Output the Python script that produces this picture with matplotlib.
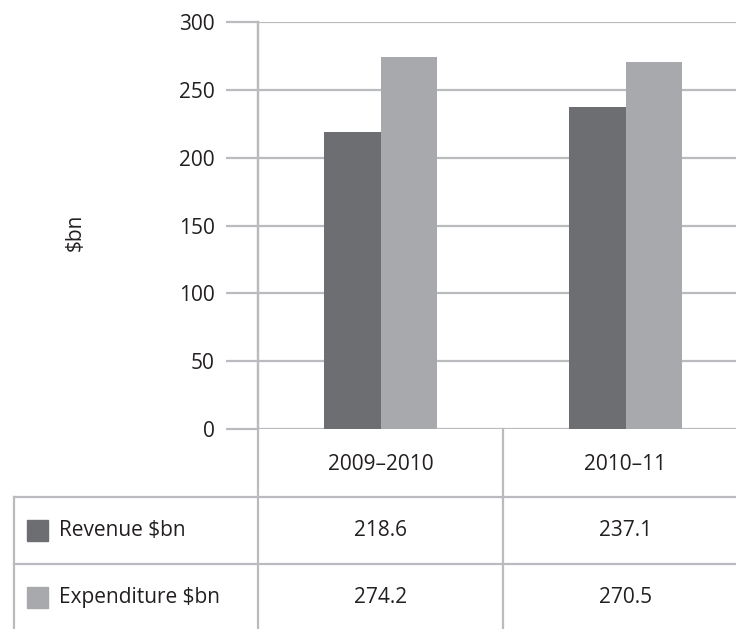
import matplotlib
matplotlib.use("Agg")
import matplotlib.pyplot as plt
from matplotlib.lines import Line2D
from matplotlib import transforms

categories = ["2009\u20132010", "2010\u201311"]
series_names = ["Revenue $bn", "Expenditure $bn"]
revenue = [218.6, 237.1]
expenditure = [274.2, 270.5]
yticks = [0, 50, 100, 150, 200, 250, 300]

colors = ["#6d6e71", "#a7a9ac"]
grid_c = "#b9bbbe"
txt_c = "#231f20"
fs = 15

plt.rcParams["font.family"] = ["Open Sans", "DejaVu Sans"]

W, H = 736, 629
fig = plt.figure(figsize=(W / 100, H / 100), dpi=100)

def fx(px):
    return px / W

def fy(py):
    return 1 - py / H

ax_left, ax_right, ax_top, ax_bot = 258, 748, 22, 429
ax = fig.add_axes([fx(ax_left), fy(ax_bot), fx(ax_right - ax_left), fy(ax_top) - fy(ax_bot)])

x = list(range(len(categories)))
bw = 0.23
ax.bar([i - bw / 2 for i in x], revenue, width=bw, color=colors[0], zorder=3)
ax.bar([i + bw / 2 for i in x], expenditure, width=bw, color=colors[1], zorder=3)

ax.set_xlim(-0.5, len(categories) - 0.5)
ax.set_ylim(0, 300)
ax.set_yticks(yticks)
ax.set_yticklabels([str(v) for v in yticks], fontsize=fs, color=txt_c)
ax.set_xticks([])
ax.yaxis.grid(True, color=grid_c, linewidth=1.6, zorder=0)
for s in ["top", "right", "bottom"]:
    ax.spines[s].set_visible(False)
ax.spines["left"].set_color(grid_c)
ax.spines["left"].set_linewidth(1.6)
ax.tick_params(axis="y", length=23, width=1.6, color=grid_c, pad=8)

fig.text(fx(75), fy(232), "$bn", rotation=90, ha="center", va="center",
         fontsize=fs, color=txt_c)

# table
bt = transforms.blended_transform_factory(ax.transData, fig.transFigure)
lw = 1.6
for b in [-0.5, 0.5]:
    top = ax_top if b == -0.5 else ax_bot
    fig.add_artist(Line2D([b, b], [fy(top), fy(H)], transform=bt, color=grid_c, lw=lw))
fig.add_artist(Line2D([fx(14), fx(14)], [fy(497), fy(H)], transform=fig.transFigure, color=grid_c, lw=lw))
for r in [497, 564]:
    fig.add_artist(Line2D([fx(14), 1.0], [fy(r), fy(r)], transform=fig.transFigure, color=grid_c, lw=lw))

for i, c in enumerate(categories):
    fig.text(i, fy((ax_bot + 497) / 2 + 1), c, transform=bt, ha="center", va="center",
             fontsize=fs, color=txt_c)

rows = [revenue, expenditure]
row_centers = [(497 + 564) / 2, (564 + 631) / 2]
for k, (name, vals) in enumerate(zip(series_names, rows)):
    yc = fy(row_centers[k])
    sq = 21
    fig.add_artist(plt.Rectangle((fx(27), yc - (sq / 2) / H), sq / W, sq / H,
                                 transform=fig.transFigure, color=colors[k]))
    fig.text(fx(59), yc, name, ha="left", va="center", fontsize=fs, color=txt_c)
    for i, v in enumerate(vals):
        fig.text(i, yc, f"{v:.1f}", transform=bt, ha="center", va="center",
                 fontsize=fs, color=txt_c)

fig.savefig("out.png", dpi=100)
